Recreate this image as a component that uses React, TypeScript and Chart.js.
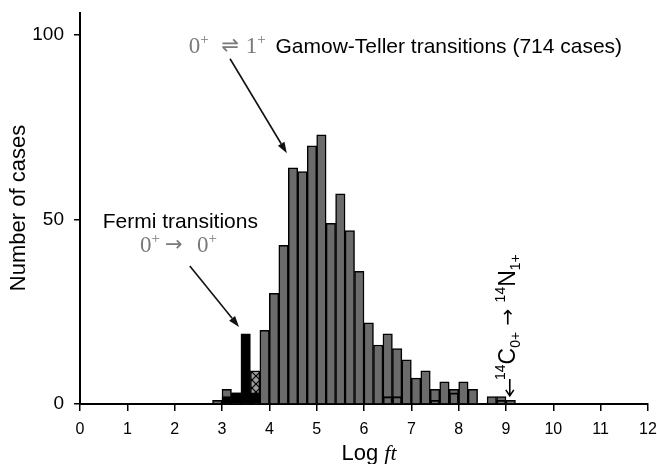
import React, { useEffect, useRef } from 'react';
import { Chart, registerables } from 'chart.js';

Chart.register(...registerables);

// Histogram bins (lower edges, Log ft) and counts
const binWidth = 0.2;
const binStarts = [2.8, 3.0, 3.2, 3.4, 3.6, 3.8, 4.0, 4.2, 4.4, 4.6, 4.8, 5.0, 5.2, 5.4, 5.6, 5.8, 6.0, 6.2, 6.4, 6.6, 6.8, 7.0, 7.2, 7.4, 7.6, 7.8, 8.0, 8.2, 8.4, 8.6, 8.8, 9.0];
const gamowTellerCounts = [1, 4, 3, 3, 9, 20, 30, 43, 64, 63, 70, 73, 49, 57, 47, 36, 22, 16, 19, 15, 12, 7, 9, 4, 6, 4, 6, 4, 0, 2, 2, 1];
const hatchedBins = [3.6];
const fermiBins = [3.0, 3.2, 3.4, 3.6];
const fermiCounts = [2, 3, 19, 3];
const overlapBins = [6.4, 6.6, 7.4, 7.8, 8.8];
const overlapCounts = [2, 2, 1, 3, 1];

const xTicks = [0, 1, 2, 3, 4, 5, 6, 7, 8, 9, 10, 11, 12];
const yTicks = [0, 50, 100];

const SANS = '"Liberation Sans", Arial, Helvetica, sans-serif';
const SERIF = '"Liberation Serif", "DejaVu Serif", serif';
const MATH_GREY = '#7a7a7a';

type Run = { text: string; font: string; color?: string; dy?: number };

function drawRuns(ctx: CanvasRenderingContext2D, x: number, y: number, runs: Run[]) {
  for (const r of runs) {
    ctx.font = r.font;
    ctx.fillStyle = r.color || '#000';
    ctx.fillText(r.text, x, y + (r.dy || 0));
    x += ctx.measureText(r.text).width;
  }
  return x;
}

function arrow(ctx: CanvasRenderingContext2D, x1: number, y1: number, x2: number, y2: number) {
  const a = Math.atan2(y2 - y1, x2 - x1);
  const len = 11;
  const hw = 3.8;
  const bx = x2 - len * Math.cos(a);
  const by = y2 - len * Math.sin(a);
  ctx.strokeStyle = '#111';
  ctx.lineWidth = 1.6;
  ctx.beginPath();
  ctx.moveTo(x1, y1);
  ctx.lineTo(bx, by);
  ctx.stroke();
  ctx.fillStyle = '#111';
  ctx.beginPath();
  ctx.moveTo(x2, y2);
  ctx.lineTo(bx + hw * Math.sin(a), by - hw * Math.cos(a));
  ctx.lineTo(bx - hw * Math.sin(a), by + hw * Math.cos(a));
  ctx.closePath();
  ctx.fill();
}

const annotationPlugin = {
  id: 'annotations',
  afterDraw(chart: any) {
    const ctx: CanvasRenderingContext2D = chart.ctx;
    const xs = chart.scales.x;
    const ys = chart.scales.y;
    const px = (v: number) => xs.getPixelForValue(v);
    const py = (v: number) => ys.getPixelForValue(v);
    const area = chart.chartArea;
    ctx.save();
    ctx.textBaseline = 'alphabetic';
    ctx.textAlign = 'left';

    // Y axis title
    ctx.save();
    ctx.translate(25, 208);
    ctx.rotate(-Math.PI / 2);
    ctx.font = `22px ${SANS}`;
    ctx.fillStyle = '#000';
    ctx.textAlign = 'center';
    ctx.fillText('Number of cases', 0, 0);
    ctx.restore();

    // X axis title "Log ft"
    ctx.font = `22px ${SANS}`;
    const logW = ctx.measureText('Log ').width;
    ctx.font = `italic 22px ${SERIF}`;
    const ftW = ctx.measureText('ft').width;
    const cx = (area.left + area.right) / 2 + 5;
    drawRuns(ctx, cx - (logW + ftW) / 2, 460, [
      { text: 'Log ', font: `22px ${SANS}` },
      { text: 'ft', font: `italic 22px ${SERIF}` },
    ]);

    // Gamow-Teller label
    const gy = py(95.1);
    const mathFont = `23px ${SERIF}`;
    const supFont = `15px ${SERIF}`;
    drawRuns(ctx, px(2.3), gy, [
      { text: '0', font: mathFont, color: MATH_GREY },
      { text: '+', font: supFont, color: MATH_GREY, dy: -9 },
    ]);
    ctx.font = `21px "DejaVu Sans", sans-serif`;
    ctx.fillStyle = MATH_GREY;
    ctx.textAlign = 'center';
    ctx.fillText('\u21CC', px(3.17), gy - 1);
    ctx.textAlign = 'left';
    drawRuns(ctx, px(3.5), gy, [
      { text: '1', font: mathFont, color: MATH_GREY },
      { text: '+', font: supFont, color: MATH_GREY, dy: -9 },
    ]);
    drawRuns(ctx, px(4.13), gy, [{ text: 'Gamow-Teller transitions (714 cases)', font: `21px ${SANS}` }]);
    arrow(ctx, px(3.17), py(93.6), px(4.37), py(68.0));

    // Fermi label
    drawRuns(ctx, px(0.48), py(47.6), [{ text: 'Fermi transitions', font: `21px ${SANS}` }]);
    const fy = py(41.3);
    drawRuns(ctx, px(1.27), fy, [
      { text: '0', font: mathFont, color: MATH_GREY },
      { text: '+', font: supFont, color: MATH_GREY, dy: -9 },
    ]);
    ctx.font = `21px "DejaVu Sans", sans-serif`;
    ctx.fillStyle = MATH_GREY;
    ctx.textAlign = 'center';
    ctx.fillText('\u2192', px(1.98), fy - 1);
    ctx.textAlign = 'left';
    drawRuns(ctx, px(2.47), fy, [
      { text: '0', font: mathFont, color: MATH_GREY },
      { text: '+', font: supFont, color: MATH_GREY, dy: -9 },
    ]);
    arrow(ctx, px(2.32), py(37.4), px(3.36), py(20.9));

    // 14C -> 14N rotated label
    ctx.save();
    ctx.translate(px(9.19), py(6.5));
    ctx.rotate(-Math.PI / 2);
    const big = `23px ${SANS}`;
    const small = `14px ${SANS}`;
    drawRuns(ctx, 0, 0, [
      { text: '14', font: small, dy: -10 },
      { text: 'C', font: big },
      { text: '0+', font: small, dy: 5 },
      { text: ' \u2192 ', font: `20px "DejaVu Sans", sans-serif`, dy: -1 },
      { text: '14', font: small, dy: -10 },
      { text: 'N', font: big },
      { text: '1+', font: small, dy: 5 },
    ]);
    ctx.restore();

    // small down arrow
    const ax = px(9.08);
    const ay1 = py(6.8);
    const ay2 = py(2.2);
    ctx.strokeStyle = '#000';
    ctx.lineWidth = 1.6;
    ctx.beginPath();
    ctx.moveTo(ax, ay1);
    ctx.lineTo(ax, ay2);
    ctx.moveTo(ax - 4, ay2 - 6);
    ctx.lineTo(ax, ay2);
    ctx.lineTo(ax + 4, ay2 - 6);
    ctx.stroke();

    ctx.restore();
  },
};

export default function App() {
  const ref = useRef<HTMLCanvasElement>(null);

  useEffect(() => {
    const canvas = ref.current!;
    const pc = document.createElement('canvas');
    pc.width = 8;
    pc.height = 8;
    const p = pc.getContext('2d')!;
    p.fillStyle = '#9c9c9c';
    p.fillRect(0, 0, 8, 8);
    p.strokeStyle = '#000';
    p.lineWidth = 1.2;
    p.beginPath();
    p.moveTo(0, 0);
    p.lineTo(8, 8);
    p.moveTo(8, 0);
    p.lineTo(0, 8);
    p.stroke();
    const hatch = canvas.getContext('2d')!.createPattern(pc, 'repeat') as CanvasPattern;

    const center = (b: number) => b + binWidth / 2;

    const chart = new Chart(canvas, {
      type: 'bar',
      data: {
        datasets: [
          {
            label: 'Gamow-Teller',
            data: binStarts.map((b, i) => ({ x: center(b), y: gamowTellerCounts[i] })),
            backgroundColor: binStarts.map((b) => (hatchedBins.includes(b) ? hatch : '#6b6b6b')),
            borderColor: '#000',
            borderWidth: 1.5,
            order: 3,
          },
          {
            label: 'Fermi',
            data: fermiBins.map((b, i) => ({ x: center(b), y: fermiCounts[i] })),
            backgroundColor: '#000',
            borderColor: '#000',
            borderWidth: 1.5,
            order: 2,
          },
          {
            label: 'Overlap',
            data: overlapBins.map((b, i) => ({ x: center(b), y: overlapCounts[i] })),
            backgroundColor: 'rgba(0,0,0,0)',
            borderColor: '#000',
            borderWidth: 1.2,
            order: 1,
          },
        ] as any,
      },
      options: {
        animation: false,
        responsive: true,
        maintainAspectRatio: false,
        layout: { padding: { top: 13, right: 9, left: 0, bottom: 0 } },
        datasets: {
          bar: {
            grouped: false,
            barPercentage: 1,
            categoryPercentage: 1,
          },
        } as any,
        plugins: {
          legend: { display: false },
          tooltip: { enabled: false },
          title: { display: false },
        },
        scales: {
          x: {
            type: 'linear',
            min: 0,
            max: 12,
            offset: false,
            afterBuildTicks: (s: any) => {
              s.ticks = xTicks.map((v) => ({ value: v }));
            },
            afterFit: (s: any) => {
              s.height = 60;
              s.paddingLeft = 0;
              s.paddingRight = 0;
            },
            ticks: {
              color: '#000',
              font: { family: SANS, size: 16 },
              padding: 9,
              maxRotation: 0,
              autoSkip: false,
            },
            grid: {
              offset: false,
              drawOnChartArea: false,
              drawTicks: true,
              tickLength: 7,
              color: '#000',
              lineWidth: 1.5,
            },
            border: { display: true, color: '#000', width: 2 },
          },
          y: {
            type: 'linear',
            min: 0,
            max: 106,
            afterBuildTicks: (s: any) => {
              s.ticks = yTicks.map((v) => ({ value: v }));
            },
            afterFit: (s: any) => {
              s.width = 80;
              s.paddingTop = 0;
              s.paddingBottom = 0;
            },
            ticks: {
              color: '#000',
              font: { family: SANS, size: 19 },
              padding: 10,
            },
            grid: {
              drawOnChartArea: false,
              drawTicks: true,
              tickLength: 6,
              color: '#000',
              lineWidth: 1.5,
            },
            border: { display: true, color: '#000', width: 2 },
          },
        },
      } as any,
      plugins: [annotationPlugin],
    });
    return () => chart.destroy();
  }, []);

  return (
    <div style={{ position: 'fixed', left: 0, top: 0, width: 657, height: 464, background: '#fff' }}>
      <canvas ref={ref} />
    </div>
  );
}
